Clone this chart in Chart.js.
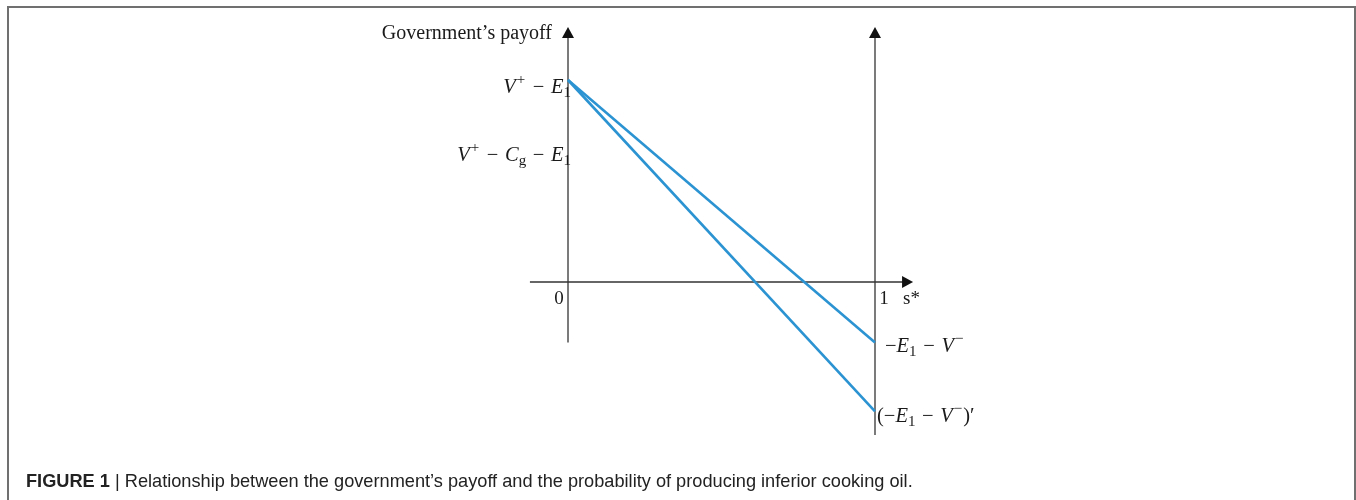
<!DOCTYPE html>
<html>
<head>
<meta charset="utf-8">
<script src="https://cdn.jsdelivr.net/npm/chart.js@4.4.0/dist/chart.umd.min.js"></script>
<style>
  html, body { margin: 0; padding: 0; background: #fff; overflow: hidden; }
  #wrap { position: relative; width: 1356px; height: 500px; }
  #frame {
    position: absolute; left: 7px; top: 6px; width: 1345px; height: 520px;
    border-top: 2px solid #707070; border-left: 2px solid #707070; border-right: 2px solid #707070;
  }
  #chart4 { position: absolute; left: 0; top: 0; }
  #caption {
    position: absolute; left: 26px; top: 471px;
    font-family: "Liberation Sans", Arial, sans-serif; font-size: 18.2px; color: #222;
    white-space: nowrap;
  }
  #caption b { font-weight: bold; }
</style>
</head>
<body>
<div id="wrap">
  <div id="frame"></div>
  <canvas id="chart4" width="1356" height="500"></canvas>
  <div id="caption"><b>FIGURE 1</b> <b style="font-weight:normal">|</b> Relationship between the government’s payoff and the probability of producing inferior cooking oil.</div>
</div>
<script>
// probability s* on the x axis
const sValues = [0, 1];
// government's payoff, line ending at −E1 − V−
const payoffUpper = [1, -0.30];
// government's payoff, line ending at (−E1 − V−)'
const payoffLower = [1, -0.64];
// level marked on the y axis for V+ − Cg − E1
const cgLevel = 0.64;
// x tick labels
const xTicks = [0, 1];

// scale ranges so that whole canvas is the plot area
const X_MIN = -1.8502, X_MAX = 2.5668;
const Y_MIN = -1.0792, Y_MAX = 1.3960;

function toPoints(xs, ys) {
  return xs.map((x, i) => ({x: x, y: ys[i]}));
}

// draw a little formula made of [text, style] parts
function drawMath(ctx, parts, x, y, align) {
  const big = 20.5, small = 15;
  const fontFor = st => {
    const size = (st === 'sup' || st === 'sub') ? small : big;
    const ital = (st === 'i') ? 'italic ' : '';
    return ital + size + 'px "Liberation Serif", "Times New Roman", serif';
  };
  const widthOf = p => {
    ctx.font = fontFor(p[1]);
    let w = ctx.measureText(p[0]).width;
    if (p[1] === 'op') w += 3;
    if (p[1] === 'sup') w += 2;
    return w;
  };
  let w = 0;
  parts.forEach(p => { w += widthOf(p); });
  let cx = align === 'right' ? x - w : x;
  ctx.textBaseline = 'alphabetic';
  ctx.textAlign = 'left';
  parts.forEach(p => {
    ctx.font = fontFor(p[1]);
    let dy = 0, dx = 0;
    if (p[1] === 'sup') { dy = -9; dx = 1; }
    if (p[1] === 'sub') dy = 4;
    if (p[1] === 'op') dx = 1.5;
    ctx.fillText(p[0], cx + dx, y + dy);
    cx += widthOf(p);
  });
}

function arrow(ctx, x, y, dir) {
  ctx.beginPath();
  if (dir === 'up') {
    ctx.moveTo(x, y); ctx.lineTo(x - 6, y + 11); ctx.lineTo(x + 6, y + 11);
  } else {
    ctx.moveTo(x, y); ctx.lineTo(x - 11, y - 6); ctx.lineTo(x - 11, y + 6);
  }
  ctx.closePath();
  ctx.fill();
}

const axesPlugin = {
  id: 'payoffAxes',
  beforeDatasetsDraw(chart) {
    const ctx = chart.ctx;
    const xs = chart.scales.x, ys = chart.scales.y;
    const x0 = xs.getPixelForValue(0), x1 = xs.getPixelForValue(1);
    const y0 = ys.getPixelForValue(0);
    ctx.save();
    ctx.strokeStyle = '#333';
    ctx.fillStyle = '#111';
    ctx.lineWidth = 1.3;
    // left vertical axis
    ctx.beginPath();
    ctx.moveTo(x0, ys.getPixelForValue(-0.30));
    ctx.lineTo(x0, ys.getPixelForValue(1.25));
    ctx.stroke();
    arrow(ctx, x0, ys.getPixelForValue(1.262), 'up');
    // right vertical axis
    ctx.beginPath();
    ctx.moveTo(x1, ys.getPixelForValue(-0.757));
    ctx.lineTo(x1, ys.getPixelForValue(1.25));
    ctx.stroke();
    arrow(ctx, x1, ys.getPixelForValue(1.262), 'up');
    // horizontal axis
    ctx.beginPath();
    ctx.moveTo(xs.getPixelForValue(-0.124), y0);
    ctx.lineTo(xs.getPixelForValue(1.10), y0);
    ctx.stroke();
    arrow(ctx, xs.getPixelForValue(1.124), y0, 'right');
    ctx.restore();
  },
  afterDatasetsDraw(chart) {
    const ctx = chart.ctx;
    const xs = chart.scales.x, ys = chart.scales.y;
    const x0 = xs.getPixelForValue(0), x1 = xs.getPixelForValue(1);
    const y0 = ys.getPixelForValue(0);
    ctx.save();
    ctx.fillStyle = '#1a1a1a';
    // axis title
    ctx.font = '20px "Liberation Serif", "Times New Roman", serif';
    ctx.textAlign = 'right';
    ctx.textBaseline = 'alphabetic';
    ctx.fillText('Government’s payoff', x0 - 16, ys.getPixelForValue(1.262) + 12);
    // x tick labels
    ctx.font = '19px "Liberation Serif", "Times New Roman", serif';
    ctx.textAlign = 'center';
    ctx.fillText(String(xTicks[0]), xs.getPixelForValue(xTicks[0]) - 9, y0 + 22);
    ctx.fillText(String(xTicks[1]), xs.getPixelForValue(xTicks[1]) + 9, y0 + 22);
    ctx.textAlign = 'left';
    ctx.fillText('s*', x1 + 28, y0 + 22);
    // y level labels
    drawMath(ctx, [['V', 'i'], ['+', 'sup'], [' − ', 'op'], ['E', 'i'], ['1', 'sub']],
      x0 + 3, ys.getPixelForValue(payoffUpper[0]) + 13, 'right');
    drawMath(ctx, [['V', 'i'], ['+', 'sup'], [' − ', 'op'], ['C', 'i'], ['g', 'sub'], [' − ', 'op'], ['E', 'i'], ['1', 'sub']],
      x0 + 3, ys.getPixelForValue(cgLevel) + 8, 'right');
    // end labels
    drawMath(ctx, [['−', 'n'], ['E', 'i'], ['1', 'sub'], [' − ', 'op'], ['V', 'i'], ['−', 'sup']],
      x1 + 10, ys.getPixelForValue(payoffUpper[1]) + 9, 'left');
    drawMath(ctx, [['(−', 'n'], ['E', 'i'], ['1', 'sub'], [' − ', 'op'], ['V', 'i'], ['−', 'sup'], [')′', 'n']],
      x1 + 2, ys.getPixelForValue(payoffLower[1]) + 11, 'left');
    ctx.restore();
  }
};

const ctx = document.getElementById('chart4').getContext('2d');
const myChart = new Chart(ctx, {
  type: 'scatter',
  data: {
    datasets: [
      {
        label: 'upper',
        data: toPoints(sValues, payoffUpper),
        showLine: true,
        borderColor: '#2b93d1',
        borderWidth: 2.6,
        pointRadius: 0,
        fill: false
      },
      {
        label: 'lower',
        data: toPoints(sValues, payoffLower),
        showLine: true,
        borderColor: '#2b93d1',
        borderWidth: 2.6,
        pointRadius: 0,
        fill: false
      }
    ]
  },
  options: {
    responsive: false,
    animation: false,
    layout: { padding: 0 },
    plugins: {
      legend: { display: false },
      tooltip: { enabled: false }
    },
    scales: {
      x: { type: 'linear', min: X_MIN, max: X_MAX, display: false },
      y: { type: 'linear', min: Y_MIN, max: Y_MAX, display: false }
    }
  },
  plugins: [axesPlugin]
});
</script>
</body>
</html>
